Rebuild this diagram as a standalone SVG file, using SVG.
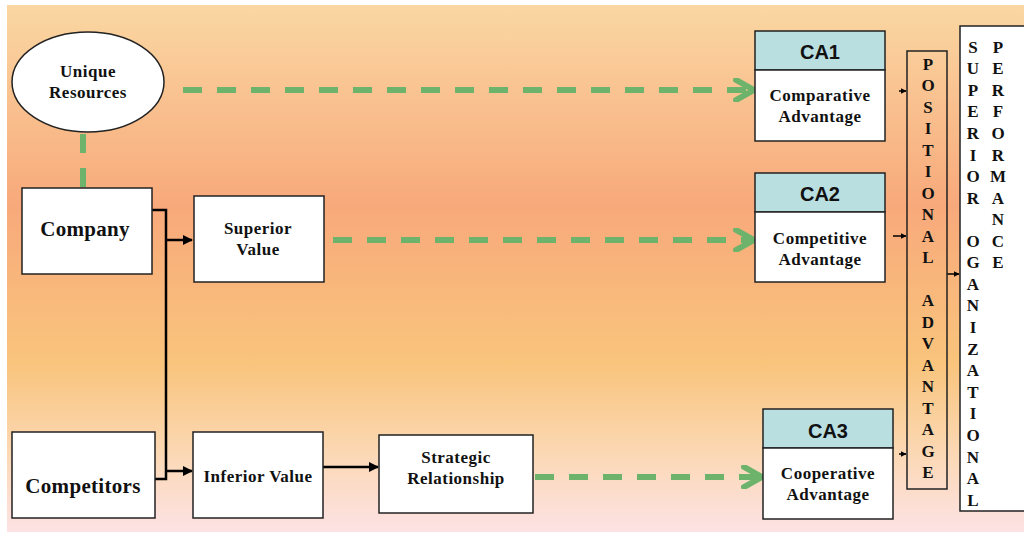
<svg xmlns="http://www.w3.org/2000/svg" width="1024" height="541" viewBox="0 0 1024 541">
<defs>
<linearGradient id="bg" x1="0" y1="0" x2="0" y2="1">
<stop offset="0" stop-color="#fad7a2"/>
<stop offset="0.38" stop-color="#f8a97b"/>
<stop offset="0.68" stop-color="#f9c47c"/>
<stop offset="0.85" stop-color="#fbd8b4"/>
<stop offset="1" stop-color="#fde2e4"/>
</linearGradient>
<marker id="ah" viewBox="0 0 10 10" refX="9" refY="5" markerWidth="4" markerHeight="4" orient="auto" markerUnits="strokeWidth">
<path d="M0,0 L10,5 L0,10 z" fill="#000"/>
</marker>
<marker id="gh" viewBox="0 0 24 24" refX="21" refY="12" markerWidth="24" markerHeight="24" orient="auto" markerUnits="userSpaceOnUse">
<path d="M3,2 L21,12 L3,22" fill="none" stroke="#6db36b" stroke-width="6" stroke-linecap="round" stroke-linejoin="round"/>
</marker>
</defs>
<style>
.box{fill:#fff;stroke:#222;stroke-width:1.5}
.hdr{fill:#b9dfe1;stroke:#222;stroke-width:1.5}
.lbl{font-family:"Liberation Serif",serif;font-weight:bold;font-size:17px;letter-spacing:0.5px;fill:#111;text-anchor:middle}
.big{font-family:"Liberation Serif",serif;font-weight:bold;font-size:21px;letter-spacing:0.3px;fill:#111;text-anchor:middle}
.ca{font-family:"Liberation Sans",Arial,sans-serif;font-weight:bold;font-size:20px;fill:#111;text-anchor:middle}
.col{font-family:"Liberation Serif",serif;font-weight:bold;font-size:17px;fill:#111;text-anchor:middle}
.gd{fill:none;stroke:#6db36b;stroke-width:6;stroke-dasharray:19 15}
.bk{fill:none;stroke:#000;stroke-width:2.5}
.sm{fill:none;stroke:#000;stroke-width:1.5}
</style>
<rect x="0" y="0" width="1024" height="541" fill="#fff"/>
<rect x="7" y="5" width="1017" height="527" fill="url(#bg)"/>

<g id="connectors">
<line class="gd" x1="183" y1="90" x2="754" y2="90" marker-end="url(#gh)"/>
<line class="gd" x1="333" y1="240" x2="754" y2="240" marker-end="url(#gh)"/>
<line class="gd" x1="535" y1="477" x2="762" y2="477" marker-end="url(#gh)"/>
<line class="gd" x1="83" y1="134" x2="83" y2="187" stroke-dasharray="14 8"/>
<polyline class="bk" points="152,210 166,210 166,479 148,479"/>
<line class="bk" x1="166" y1="240" x2="192" y2="240" marker-end="url(#ah)"/>
<line class="bk" x1="166" y1="471" x2="192" y2="471" marker-end="url(#ah)"/>
<line class="bk" x1="323" y1="467" x2="378" y2="467" marker-end="url(#ah)"/>
<line class="sm" x1="899" y1="91" x2="906" y2="91" marker-end="url(#ah)"/>
<line class="sm" x1="893" y1="236" x2="906" y2="236" marker-end="url(#ah)"/>
<line class="sm" x1="899" y1="454" x2="906" y2="454" marker-end="url(#ah)"/>
<line class="sm" x1="947" y1="274" x2="959" y2="274" marker-end="url(#ah)"/>
</g>

<g id="unique-resources">
<ellipse cx="88" cy="82" rx="76" ry="50" fill="#fff" stroke="#222" stroke-width="1.5"/>
<text class="lbl" x="88" y="77">Unique</text>
<text class="lbl" x="88" y="98">Resources</text>
</g>

<g id="company">
<rect class="box" x="22" y="188" width="130" height="86"/>
<text class="big" x="85" y="236">Company</text>
</g>

<g id="competitors">
<rect class="box" x="12" y="432" width="143" height="86"/>
<text class="big" x="83" y="493" font-size="20">Competitors</text>
</g>

<g id="superior-value">
<rect class="box" x="194" y="196" width="130" height="86"/>
<text class="lbl" x="258" y="234">Superior</text>
<text class="lbl" x="258" y="255">Value</text>
</g>

<g id="inferior-value">
<rect class="box" x="193" y="432" width="130" height="86"/>
<text class="lbl" x="258" y="482">Inferior Value</text>
</g>

<g id="strategic-relationship">
<rect class="box" x="379" y="435" width="154" height="78"/>
<text class="lbl" x="456" y="463">Strategic</text>
<text class="lbl" x="456" y="484">Relationship</text>
</g>

<g id="ca1">
<rect class="hdr" x="755" y="31" width="130" height="39"/>
<rect class="box" x="755" y="70" width="130" height="71"/>
<text class="ca" x="820" y="59">CA1</text>
<text class="lbl" x="820" y="101">Comparative</text>
<text class="lbl" x="820" y="122">Advantage</text>
</g>

<g id="ca2">
<rect class="hdr" x="755" y="173" width="130" height="39"/>
<rect class="box" x="755" y="212" width="130" height="70"/>
<text class="ca" x="820" y="201">CA2</text>
<text class="lbl" x="820" y="244">Competitive</text>
<text class="lbl" x="820" y="265">Advantage</text>
</g>

<g id="ca3">
<rect class="hdr" x="763" y="409" width="130" height="39"/>
<rect class="box" x="763" y="448" width="130" height="71"/>
<text class="ca" x="828" y="438">CA3</text>
<text class="lbl" x="828" y="479">Cooperative</text>
<text class="lbl" x="828" y="500">Advantage</text>
</g>

<g id="positional-advantage">
<rect x="907" y="51" width="40" height="438" fill="none" stroke="#222" stroke-width="1.5"/>
<g class="col">
<text x="928" y="70">P</text>
<text x="928" y="91">O</text>
<text x="928" y="113">S</text>
<text x="928" y="134">I</text>
<text x="928" y="156">T</text>
<text x="928" y="177">I</text>
<text x="928" y="199">O</text>
<text x="928" y="220">N</text>
<text x="928" y="242">A</text>
<text x="928" y="263">L</text>
<text x="928" y="306">A</text>
<text x="928" y="328">D</text>
<text x="928" y="349">V</text>
<text x="928" y="371">A</text>
<text x="928" y="392">N</text>
<text x="928" y="414">T</text>
<text x="928" y="435">A</text>
<text x="928" y="457">G</text>
<text x="928" y="478">E</text>
</g>
</g>

<g id="superior-organizational-performance">
<rect x="960" y="26" width="70" height="485" fill="#fff" stroke="#222" stroke-width="1.5"/>
<g class="col">
<text x="973" y="53">S</text>
<text x="973" y="74">U</text>
<text x="973" y="96">P</text>
<text x="973" y="117">E</text>
<text x="973" y="139">R</text>
<text x="973" y="161">I</text>
<text x="973" y="182">O</text>
<text x="973" y="204">R</text>
<text x="973" y="247">O</text>
<text x="973" y="268">G</text>
<text x="973" y="290">A</text>
<text x="973" y="311">N</text>
<text x="973" y="333">I</text>
<text x="973" y="355">Z</text>
<text x="973" y="376">A</text>
<text x="973" y="398">T</text>
<text x="973" y="419">I</text>
<text x="973" y="441">O</text>
<text x="973" y="463">N</text>
<text x="973" y="484">A</text>
<text x="973" y="506">L</text>
<text x="998" y="53">P</text>
<text x="998" y="74">E</text>
<text x="998" y="96">R</text>
<text x="998" y="117">F</text>
<text x="998" y="139">O</text>
<text x="998" y="161">R</text>
<text x="998" y="182">M</text>
<text x="998" y="204">A</text>
<text x="998" y="225">N</text>
<text x="998" y="247">C</text>
<text x="998" y="268">E</text>
</g>
</g>
</svg>
